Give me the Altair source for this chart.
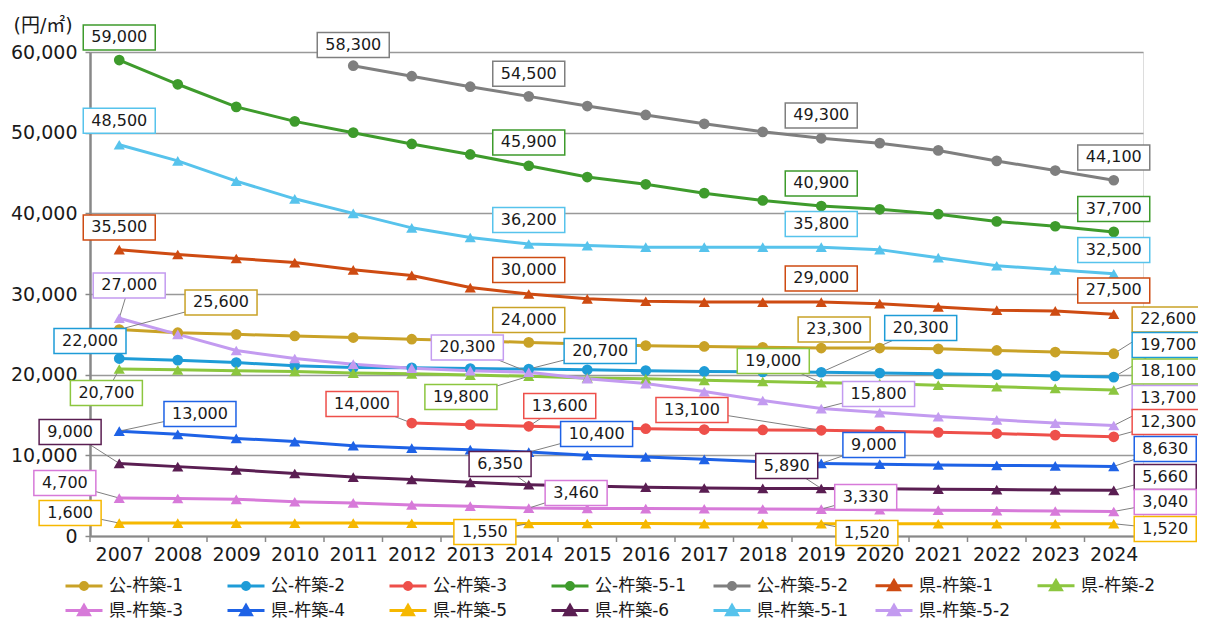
import altair as alt
import pandas as pd

years = list(range(2007, 2025))

series_names = ["公-杵築-1", "公-杵築-2", "公-杵築-3", "公-杵築-5-1", "公-杵築-5-2",
                "県-杵築-1", "県-杵築-2", "県-杵築-3", "県-杵築-4", "県-杵築-5",
                "県-杵築-6", "県-杵築-5-1", "県-杵築-5-2"]
colors = ["#C9A227", "#1E9CD7", "#EE4F4A", "#3E9B2C", "#7F7F7F",
          "#CE4B12", "#8CC63F", "#D77AD9", "#1E62E6", "#F6B800",
          "#5A1E52", "#57C3EC", "#C39BF0"]
markers = ["circle"] * 5 + ["triangle"] * 8

N = None
values = {
    "公-杵築-1": [25600, 25200, 25000, 24800, 24600, 24400, 24200, 24000, 23800, 23600, 23500, 23400, 23300, 23300, 23200, 23000, 22800, 22600],
    "公-杵築-2": [22000, 21800, 21500, 21100, 20900, 20850, 20750, 20700, 20600, 20500, 20400, 20350, 20300, 20200, 20100, 20000, 19850, 19700],
    "公-杵築-3": [N, N, N, N, N, 14000, 13800, 13600, 13450, 13300, 13200, 13150, 13100, 13000, 12850, 12700, 12500, 12300],
    "公-杵築-5-1": [59000, 56000, 53200, 51400, 50000, 48600, 47300, 45900, 44500, 43600, 42500, 41600, 40900, 40500, 39900, 39000, 38400, 37700],
    "公-杵築-5-2": [N, N, N, N, 58300, 57000, 55700, 54500, 53300, 52200, 51100, 50100, 49300, 48700, 47800, 46500, 45300, 44100],
    "県-杵築-1": [35500, 34900, 34400, 33900, 33000, 32300, 30800, 30000, 29400, 29100, 29000, 29000, 29000, 28800, 28400, 28000, 27900, 27500],
    "県-杵築-2": [20700, 20600, 20500, 20400, 20200, 20100, 19950, 19800, 19600, 19500, 19300, 19150, 19000, 18900, 18700, 18500, 18300, 18100],
    "県-杵築-3": [4700, 4650, 4550, 4250, 4100, 3850, 3700, 3460, 3420, 3400, 3380, 3350, 3330, 3250, 3200, 3150, 3100, 3040],
    "県-杵築-4": [13000, 12600, 12100, 11700, 11200, 10900, 10700, 10400, 10000, 9800, 9500, 9200, 9000, 8900, 8800, 8750, 8700, 8630],
    "県-杵築-5": [1600, 1600, 1600, 1600, 1600, 1580, 1560, 1550, 1550, 1540, 1530, 1520, 1520, 1520, 1520, 1520, 1520, 1520],
    "県-杵築-6": [9000, 8600, 8200, 7750, 7300, 7000, 6650, 6350, 6200, 6050, 5950, 5900, 5890, 5850, 5800, 5750, 5700, 5660],
    "県-杵築-5-1": [48500, 46500, 44000, 41800, 40000, 38200, 37000, 36200, 36000, 35800, 35800, 35800, 35800, 35500, 34500, 33500, 33000, 32500],
    "県-杵築-5-2": [27000, 25000, 23000, 22000, 21300, 20800, 20500, 20300, 19500, 18900, 17900, 16800, 15800, 15300, 14800, 14400, 14000, 13700],
}

# data-label placement: (series, year, label x in year units, label y in value units, leader line)
ann_series = ["公-杵築-5-1", "公-杵築-5-2", "公-杵築-5-2", "公-杵築-5-2", "公-杵築-5-2",
              "県-杵築-5-1", "公-杵築-5-1", "公-杵築-5-1", "公-杵築-5-1",
              "県-杵築-1", "県-杵築-5-1", "県-杵築-5-1", "県-杵築-5-1",
              "県-杵築-1", "県-杵築-1", "県-杵築-1",
              "県-杵築-5-2", "公-杵築-1", "公-杵築-2", "県-杵築-2",
              "公-杵築-1", "県-杵築-5-2", "公-杵築-2", "県-杵築-2",
              "公-杵築-1", "公-杵築-2", "県-杵築-2",
              "公-杵築-1", "公-杵築-2", "県-杵築-2",
              "県-杵築-5-2", "県-杵築-5-2",
              "公-杵築-3", "公-杵築-3", "公-杵築-3", "公-杵築-3",
              "県-杵築-4", "県-杵築-6", "県-杵築-4", "県-杵築-4", "県-杵築-4",
              "県-杵築-6", "県-杵築-6", "県-杵築-6",
              "県-杵築-3", "県-杵築-3", "県-杵築-3", "県-杵築-3",
              "県-杵築-5", "県-杵築-5", "県-杵築-5", "県-杵築-5"]
ann_year = [2007, 2011, 2014, 2019, 2024,
            2007, 2014, 2019, 2024,
            2007, 2014, 2019, 2024,
            2014, 2019, 2024,
            2007, 2007, 2007, 2007,
            2014, 2014, 2014, 2014,
            2019, 2019, 2019,
            2024, 2024, 2024,
            2019, 2024,
            2012, 2014, 2019, 2024,
            2007, 2007, 2014, 2019, 2024,
            2014, 2019, 2024,
            2007, 2014, 2019, 2024,
            2007, 2014, 2019, 2024]
ann_lx = [2007.0, 2011.0, 2014.0, 2019.0, 2024.0,
          2007.0, 2014.0, 2019.0, 2024.0,
          2007.0, 2014.0, 2019.0, 2024.0,
          2014.0, 2019.0, 2024.0,
          2007.17, 2008.74, 2006.5, 2006.78,
          2014.0, 2012.95, 2015.22, 2012.84,
          2019.22, 2020.70, 2018.18,
          2024.93, 2024.93, 2024.93,
          2019.98, 2024.93,
          2011.15, 2014.53, 2016.79, 2024.93,
          2008.38, 2006.16, 2015.16, 2019.9, 2024.88,
          2013.51, 2018.41, 2024.88,
          2006.07, 2014.81, 2019.76, 2024.88,
          2006.16, 2013.25, 2019.78, 2024.88]
ann_ly = [61810, 60880, 57290, 52140, 46930,
          51480, 48790, 43710, 40550,
          38250, 39180, 38690, 35460,
          32980, 31930, 30440,
          31060, 28950, 24180, 17730,
          26780, 23370, 22940, 17240,
          25610, 25790, 21700,
          26850, 23680, 20400,
          17610, 17110,
          16370, 16120, 15620, 14140,
          15130, 12900, 12650, 11280, 10790,
          8930, 8680, 7320,
          6570, 5330, 4840, 4220,
          2850, 500, 370, 870]
ann_leader = [False, False, False, False, False,
              False, False, False, False,
              False, False, False, False,
              False, False, False,
              True, True, False, True,
              False, True, True, True,
              False, True, True,
              True, True, True,
              True, True,
              True, True, True, True,
              True, True, True, True, True,
              True, True, True,
              True, True, True, True,
              True, True, True, True]

rows = []
for name, mk in zip(series_names, markers):
    for yr, v in zip(years, values[name]):
        if v is not None:
            rows.append({"series": name, "year": yr, "value": v, "marker": mk})
df = pd.DataFrame(rows)

arows = []
for s, yr, lx, ly, ld in zip(ann_series, ann_year, ann_lx, ann_ly, ann_leader):
    v = values[s][years.index(yr)]
    arows.append({"series": s, "year": yr, "value": v, "lx": lx, "ly": ly,
                  "leader": ld, "text": f"{v:,}"})
adf = pd.DataFrame(arows)

bounds = [y - 0.5 for y in years] + [years[-1] + 0.5]
bdf = pd.DataFrame({"year": bounds})

FONT = "DejaVu Sans, Noto Sans CJK JP"
W, H = 1053, 484

xs = alt.Scale(domain=[years[0] - 0.5, years[-1] + 0.5], nice=False, zero=False)
ys = alt.Scale(domain=[0, 60000], nice=False)
S = alt.Scale(domain=series_names, range=colors)

circle_path = "M-1,0 L2.7,0 M1.2,0 A0.35,0.35 0 1,1 0.5,0 A0.35,0.35 0 1,1 1.2,0 Z"
tri_path = "M-1,0 L2.7,0 M0.85,-0.5 L1.38,0.42 L0.32,0.42 Z"
legend_shapes = [circle_path if m == "circle" else tri_path for m in markers]

x_axis = alt.Axis(values=years, format="d", ticks=False, grid=False, title=None,
                  labelFontSize=19, labelColor="#1a1a1a", labelPadding=9,
                  domainColor="#888888", domainWidth=2, labelFont=FONT)
y_axis = alt.Axis(values=list(range(0, 60001, 10000)),
                  labelExpr="format(datum.value, ',')", title="(円/㎡)",
                  titleAngle=0, titleAlign="left", titleBaseline="middle",
                  titleX=-77, titleY=-27, titleFontSize=19, titleFontWeight="normal",
                  titleColor="#1a1a1a", titleFont=FONT,
                  labelFontSize=19, labelColor="#1a1a1a", labelPadding=8, labelFont=FONT,
                  tickSize=5, tickColor="#888888", tickWidth=1.5,
                  domainColor="#888888", domainWidth=2.5,
                  gridColor="#999999", gridWidth=1.5)

X = alt.X("year:Q", scale=xs, axis=x_axis)
Y = alt.Y("value:Q", scale=ys, axis=y_axis)

leg = alt.Legend(orient="none", legendX=-26, legendY=522, direction="horizontal",
                 columns=7, title=None, labelFontSize=17, labelFont=FONT,
                 labelColor="#1a1a1a", symbolSize=400, symbolStrokeWidth=3,
                 labelOffset=22, columnPadding=20, rowPadding=3, gridAlign="all",
                 symbolLimit=0, labelLimit=300)

STROKE = alt.Stroke("series:N", scale=S, legend=leg)
FILL = alt.Fill("series:N", scale=S, legend=leg)

ticks = alt.Chart(bdf).mark_rule(color="#888888", strokeWidth=1.5).encode(
    x=X, y=alt.value(H), y2=alt.value(H + 6))

leaders = alt.Chart(adf).transform_filter(alt.datum.leader).mark_rule(
    color="#808080", strokeWidth=1).encode(
    x=X, x2="lx:Q", y=Y, y2="ly:Q")

lines = alt.Chart(df).mark_line(strokeWidth=3).encode(
    x=X, y=Y, stroke=STROKE, detail="series:N")

circles = alt.Chart(df).transform_filter(alt.datum.marker == "circle").mark_point(
    shape="circle", filled=True, size=115, opacity=1).encode(
    x=X, y=Y, fill=FILL)

tris = alt.Chart(df).transform_filter(alt.datum.marker == "triangle").mark_point(
    shape="triangle-up", filled=True, size=125, opacity=1).encode(
    x=X, y=Y, fill=FILL)

def boxes(nchar, w):
    return alt.Chart(adf).transform_filter(f"length(datum.text) == {nchar}").mark_rect(
        width=w, height=25, fill="white", strokeWidth=1.5).encode(
        x=alt.X("lx:Q", scale=xs, axis=x_axis), y=alt.Y("ly:Q", scale=ys, axis=y_axis),
        stroke=STROKE)

texts = alt.Chart(adf).mark_text(fontSize=16, color="#1a1a1a", font=FONT).encode(
    x=alt.X("lx:Q", scale=xs, axis=x_axis), y=alt.Y("ly:Q", scale=ys, axis=y_axis),
    text="text:N")

legend_layer = alt.Chart(df).transform_filter("false").mark_point(
    filled=True, strokeWidth=3, opacity=1).encode(
    x=X, y=Y, fill=FILL, stroke=STROKE,
    shape=alt.Shape("series:N", scale=alt.Scale(domain=series_names, range=legend_shapes), legend=leg))

chart = alt.layer(
    lines, ticks, leaders, circles, tris, boxes(6, 72), boxes(5, 62), texts, legend_layer
).properties(
    width=W, height=H,
    padding={"left": 82, "top": 44, "right": 55, "bottom": 82},
    autosize=alt.AutoSizeParams(type="none"),
).configure_view(stroke="#8c8c8c", strokeWidth=1.5).configure(font=FONT)

chart.save("out.html", embed_options={"renderer": "svg", "actions": False})
